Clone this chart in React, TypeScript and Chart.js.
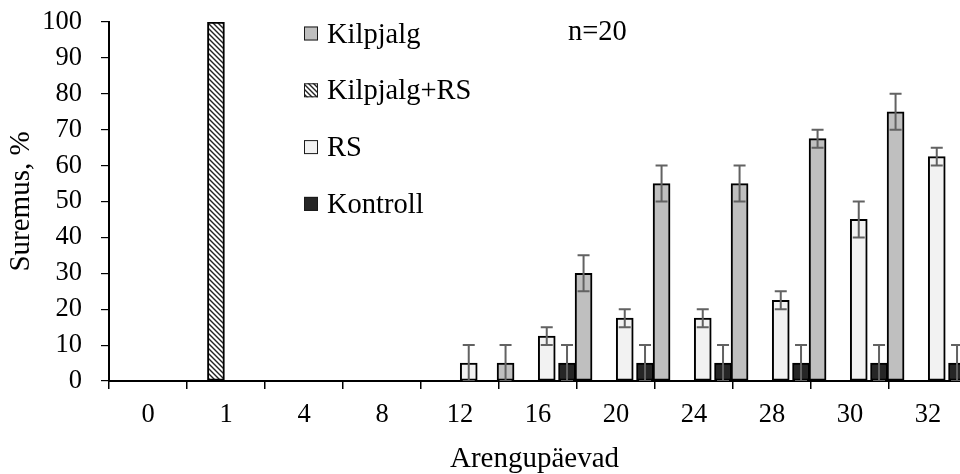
import React, { useEffect, useRef } from "react";
import { Chart, registerables } from "chart.js";

Chart.register(...registerables);

// ---- data ----
const categories = ["0", "1", "4", "8", "12", "16", "20", "24", "28", "30", "32"];
const kilpjalgValues = [0, 0, 0, 0, 5, 30, 55, 55, 67.5, 75, null];
const kilpjalgErrors = [0, 0, 0, 0, 5, 5, 5, 5, 2.5, 5, null];
const kilpjalgRsValues = [null, 100, null, null, null, null, null, null, null, null, null];
const kilpjalgRsErrors = [0, 0, 0, 0, 0, 0, 0, 0, 0, 0, 0];
const rsValues = [0, 0, 0, 0, 5, 12.5, 17.5, 17.5, 22.5, 45, 62.5];
const rsErrors = [0, 0, 0, 0, 5, 2.5, 2.5, 2.5, 2.5, 5, 2.5];
const kontrollValues = [0, 0, 0, 0, 0, 5, 5, 5, 5, 5, 5];
const kontrollErrors = [0, 0, 0, 0, 0, 5, 5, 5, 5, 5, 5];
const seriesNames = ["Kilpjalg", "Kilpjalg+RS", "RS", "Kontroll"];
const yTickStep = 10;
const yMax = 100;
const sampleNote = "n=20";
const xTitle = "Arengupäevad";
const yTitle = "Suremus, %";

// ---- style ----
const FONT = '"Liberation Serif", "Times New Roman", serif';
const X_VIEW_MAX = 10.41; // chart continues past the right edge of the picture
const BAR_PX = 17;
// offset of each series inside its day group (in category units)
const OFFSET = { kilpjalg: 0.584, kilpjalgRs: -0.129, rs: 0.112, kontroll: 0.372 };

function makeHatch(): CanvasPattern | string {
  const c = document.createElement("canvas");
  const p = 5;
  c.width = p;
  c.height = p;
  const g = c.getContext("2d");
  if (!g) return "#888";
  g.fillStyle = "#ffffff";
  g.fillRect(0, 0, p, p);
  g.strokeStyle = "#222222";
  g.lineWidth = 1.4;
  g.beginPath();
  g.moveTo(-1, -1);
  g.lineTo(p + 1, p + 1);
  g.moveTo(-1, p - 1);
  g.lineTo(1, p + 1);
  g.moveTo(p - 1, -1);
  g.lineTo(p + 1, 1);
  g.stroke();
  return g.createPattern(c, "repeat") || "#888";
}

const toPoints = (vals: (number | null)[], off: number) =>
  vals.map((v, i) => ({ x: i + off, y: v }));

const errorBarPlugin = {
  id: "errorBars",
  afterDatasetsDraw(chart: any) {
    const ctx = chart.ctx;
    const { left, right, top, bottom } = chart.chartArea;
    const yScale = chart.scales.y;
    ctx.save();
    ctx.beginPath();
    ctx.rect(left, top - 20, right - left, bottom - top + 20);
    ctx.clip();
    ctx.strokeStyle = "#626262";
    ctx.lineWidth = 2;
    chart.data.datasets.forEach((ds: any, di: number) => {
      const errs = ds.errors as (number | null)[];
      if (!errs) return;
      const meta = chart.getDatasetMeta(di);
      meta.data.forEach((bar: any, i: number) => {
        const pt = ds.data[i];
        const e = errs[i];
        if (!pt || pt.y == null || !e) return;
        const x = bar.x;
        const yHi = yScale.getPixelForValue(pt.y + e);
        const yLo = yScale.getPixelForValue(pt.y - e);
        const cap = 6;
        ctx.beginPath();
        ctx.moveTo(x, yHi);
        ctx.lineTo(x, yLo);
        ctx.moveTo(x - cap, yHi);
        ctx.lineTo(x + cap, yHi);
        ctx.moveTo(x - cap, yLo);
        ctx.lineTo(x + cap, yLo);
        ctx.stroke();
      });
    });
    ctx.restore();
  },
};

const legendPlugin = {
  id: "customLegend",
  afterDraw(chart: any, _args: any, opts: any) {
    const ctx = chart.ctx;
    ctx.save();
    ctx.font = `${opts.fontSize}px ${FONT}`;
    ctx.textBaseline = "alphabetic";
    ctx.textAlign = "left";
    chart.data.datasets.forEach((ds: any, k: number) => {
      const base = opts.firstBaseline + k * opts.spacing;
      const bx = opts.left;
      const by = base - opts.capMid - opts.box / 2;
      ctx.fillStyle = ds.backgroundColor;
      ctx.fillRect(bx, by, opts.box, opts.box);
      ctx.strokeStyle = "#1a1a1a";
      ctx.lineWidth = 1;
      ctx.strokeRect(bx + 0.5, by + 0.5, opts.box - 1, opts.box - 1);
      ctx.fillStyle = "#000";
      ctx.fillText(ds.label, bx + opts.box + opts.gap, base);
    });
    ctx.fillText(sampleNote, opts.noteX, opts.noteBaseline);
    ctx.restore();
  },
};

export default function App() {
  const ref = useRef<HTMLCanvasElement | null>(null);

  useEffect(() => {
    if (!ref.current) return;
    const hatch = makeHatch();
    const tickValues: number[] = [];
    categories.forEach((_, i) => {
      tickValues.push(i - 0.5, i);
    });

    const common = {
      borderColor: "#000000",
      borderWidth: 2,
      borderSkipped: false,
      grouped: false,
      barThickness: BAR_PX,
    };

    const chart = new Chart(ref.current, {
      type: "bar",
      data: {
        datasets: [
          { label: seriesNames[0], data: toPoints(kilpjalgValues, OFFSET.kilpjalg), errors: kilpjalgErrors, backgroundColor: "#bfbfbf", ...common } as any,
          { label: seriesNames[1], data: toPoints(kilpjalgRsValues, OFFSET.kilpjalgRs), errors: kilpjalgRsErrors, backgroundColor: hatch, ...common } as any,
          { label: seriesNames[2], data: toPoints(rsValues, OFFSET.rs), errors: rsErrors, backgroundColor: "#f2f2f2", ...common } as any,
          { label: seriesNames[3], data: toPoints(kontrollValues, OFFSET.kontroll), errors: kontrollErrors, backgroundColor: "#262626", ...common } as any,
        ],
      },
      options: {
        animation: false,
        responsive: true,
        maintainAspectRatio: false,
        layout: { padding: { top: 22, right: 0, bottom: 0, left: 0 } },
        plugins: {
          legend: { display: false },
          tooltip: { enabled: false },
          customLegend: {
            left: 304,
            firstBaseline: 42.5,
            spacing: 56.8,
            box: 14,
            gap: 9,
            capMid: 9,
            fontSize: 28.5,
            noteX: 568,
            noteBaseline: 40,
          },
        } as any,
        scales: {
          x: {
            type: "linear",
            min: -0.5,
            max: X_VIEW_MAX,
            offset: false,
            afterBuildTicks: (scale: any) => {
              scale.ticks = tickValues.filter((v) => v <= X_VIEW_MAX).map((v) => ({ value: v }));
            },
            afterFit: (scale: any) => {
              scale.height = 93;
              scale.paddingLeft = 0;
              scale.paddingRight = 0;
            },
            ticks: {
              autoSkip: false,
              maxRotation: 0,
              minRotation: 0,
              padding: 10,
              color: "#000",
              font: { family: FONT, size: 26.5 },
              callback: (v: any) => (Number.isInteger(v) ? categories[v] : ""),
            },
            grid: {
              offset: false,
              drawOnChartArea: false,
              drawTicks: true,
              tickLength: 8,
              lineWidth: 1.5,
              tickColor: (ctx: any) =>
                ctx.tick && Number.isInteger(ctx.tick.value) ? "rgba(0,0,0,0)" : "#000",
            },
            border: { display: true, color: "#000", width: 2 },
            title: {
              display: true,
              text: xTitle,
              color: "#000",
              font: { family: FONT, size: 29, lineHeight: 1 },
              padding: { top: 0, bottom: 0 },
            },
          },
          y: {
            min: 0,
            max: yMax,
            afterFit: (scale: any) => {
              scale.width = 109;
              scale.paddingTop = 0;
              scale.paddingBottom = 0;
            },
            ticks: {
              stepSize: yTickStep,
              autoSkip: false,
              padding: 19,
              color: "#000",
              font: { family: FONT, size: 26.5, lineHeight: 1 },
            },
            grid: {
              drawOnChartArea: false,
              drawTicks: true,
              tickLength: 8,
              lineWidth: 1.2,
              tickColor: "#000",
            },
            border: { display: true, color: "#000", width: 2 },
            title: {
              display: true,
              text: yTitle,
              color: "#000",
              font: { family: FONT, size: 29, lineHeight: 1 },
              padding: { top: 7, bottom: 0 },
            },
          },
        },
      } as any,
      plugins: [errorBarPlugin, legendPlugin],
    });
    return () => chart.destroy();
  }, []);

  return (
    <div style={{ position: "absolute", left: 0, top: 0, width: 960, height: 474, background: "#fff" }}>
      <canvas ref={ref} />
    </div>
  );
}
